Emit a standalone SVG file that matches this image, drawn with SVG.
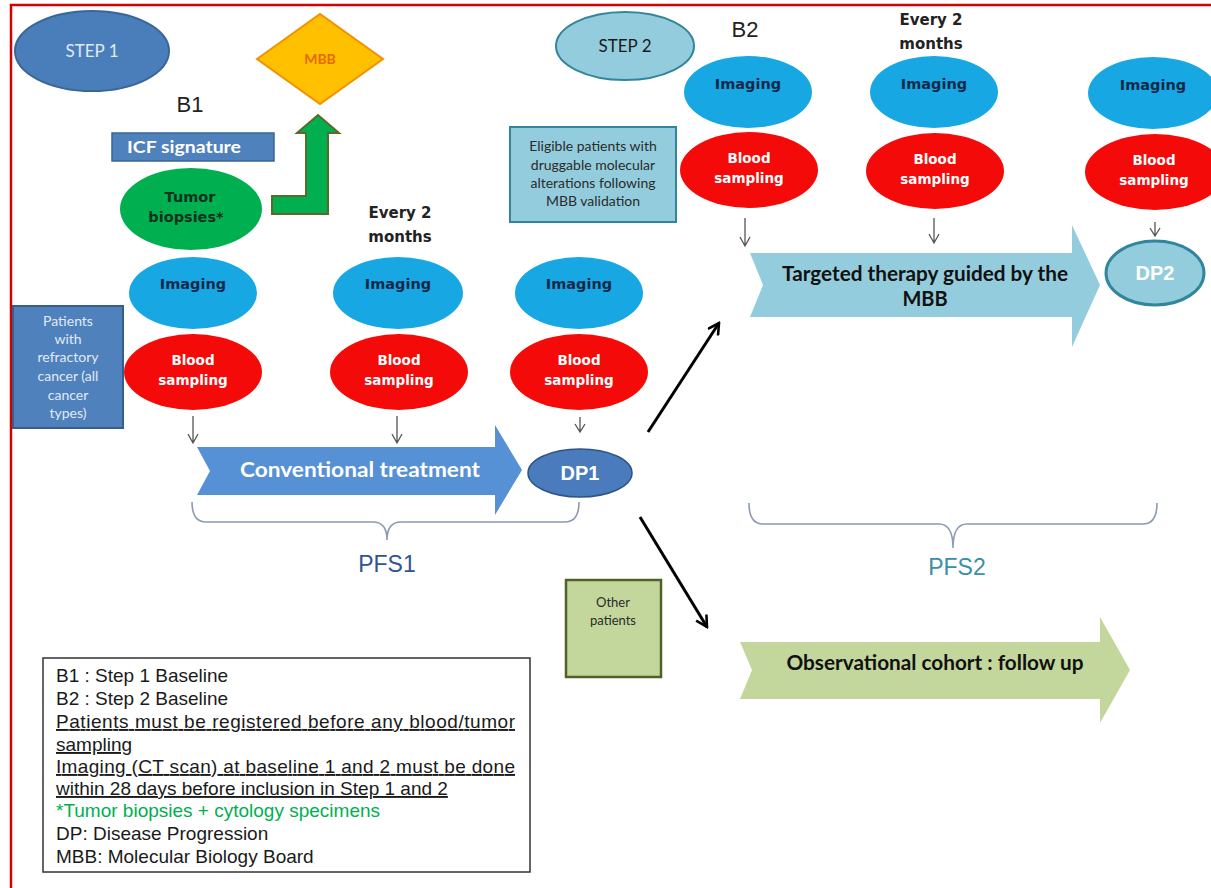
<svg xmlns="http://www.w3.org/2000/svg" width="1211" height="888" viewBox="0 0 1211 888">
<defs>
<style>
.cal{font-family:Lato,"Open Sans","Liberation Sans",sans-serif}
.dv{font-family:"DejaVu Sans","Liberation Sans",sans-serif;font-weight:bold}
.ar{font-family:"Liberation Sans",Arial,sans-serif}
.img{fill:#17a8e3}
.bld{fill:#f50a0a}
.imgt{fill:#14284a;font-size:14.5px}
.bldt{fill:#ffffff;font-size:13.5px}
.small{stroke:#555;stroke-width:1.3;fill:none}
.big{stroke:#000;stroke-width:3;fill:none}
.brace{stroke:#8a9bb3;stroke-width:1.6;fill:none}
.leg{font-size:19px;fill:#1a1a1a}
</style>
<marker id="open" viewBox="0 0 14 14" refX="12" refY="7" markerWidth="14" markerHeight="14" markerUnits="userSpaceOnUse" orient="auto">
<path d="M1 1 L12 7 L1 13" fill="none" stroke="#000" stroke-width="2.6"/>
</marker>
</defs>
<rect width="1211" height="888" fill="#fff"/>
<path d="M11 888 V5 H1211" fill="none" stroke="#d40000" stroke-width="2.5"/>

<g id="step1">
<ellipse cx="92" cy="51" rx="77" ry="40" fill="#4a7ebb" stroke="#3a6598" stroke-width="2"/>
<text x="92" y="57" text-anchor="middle" class="cal" font-size="17" fill="#e1eaf5">STEP 1</text>
</g>
<g id="mbb">
<polygon points="257,59 320,14 383,59 320,104" fill="#ffc000" stroke="#f29200" stroke-width="2"/>
<text x="320" y="64" text-anchor="middle" class="cal" font-weight="bold" font-size="14" fill="#e46c0a">MBB</text>
</g>
<g id="b1"><text x="190" y="112" text-anchor="middle" class="ar" font-size="22" fill="#222">B1</text></g>
<g id="icf">
<rect x="112" y="133" width="162" height="28" fill="#4f81bd" stroke="#3a6596" stroke-width="1.5"/>
<text x="184" y="153" text-anchor="middle" class="cal" font-weight="bold" font-size="17" fill="#fff" textLength="114" lengthAdjust="spacingAndGlyphs">ICF signature</text>
</g>
<g id="tumor">
<ellipse cx="191" cy="209" rx="71" ry="41" fill="#00b050"/>
<text x="190" y="202" text-anchor="middle" class="dv" font-size="14.5" fill="#13321c">Tumor</text>
<text x="186" y="222" text-anchor="middle" class="dv" font-size="14.5" fill="#13321c">biopsies*</text>
</g>
<g id="green-arrow">
<polygon points="272,196 306,196 306,133 297,133 318,115 339,133 328,133 328,214 272,214" fill="#00b050" stroke="#5a6a28" stroke-width="2"/>
</g>
<g id="every1">
<text x="400" y="218" text-anchor="middle" class="dv" font-size="15" fill="#222">Every 2</text>
<text x="400" y="242" text-anchor="middle" class="dv" font-size="15" fill="#222">months</text>
</g>

<g id="imaging1"><ellipse class="img" cx="193" cy="293" rx="64" ry="36"/><text x="193" y="289" text-anchor="middle" class="dv imgt">Imaging</text></g>
<g id="blood1"><ellipse class="bld" cx="193" cy="372" rx="69" ry="38"/><text x="193" y="365" text-anchor="middle" class="dv bldt">Blood</text><text x="193" y="385" text-anchor="middle" class="dv bldt">sampling</text></g>
<g id="imaging2"><ellipse class="img" cx="398" cy="293" rx="65" ry="36"/><text x="398" y="289" text-anchor="middle" class="dv imgt">Imaging</text></g>
<g id="blood2"><ellipse class="bld" cx="399" cy="372" rx="69" ry="38"/><text x="399" y="365" text-anchor="middle" class="dv bldt">Blood</text><text x="399" y="385" text-anchor="middle" class="dv bldt">sampling</text></g>
<g id="imaging3"><ellipse class="img" cx="579" cy="293" rx="64" ry="36"/><text x="579" y="289" text-anchor="middle" class="dv imgt">Imaging</text></g>
<g id="blood3"><ellipse class="bld" cx="579" cy="372" rx="69" ry="38"/><text x="579" y="365" text-anchor="middle" class="dv bldt">Blood</text><text x="579" y="385" text-anchor="middle" class="dv bldt">sampling</text></g>

<g id="patients">
<rect x="13" y="306" width="110" height="122" fill="#4f81bd" stroke="#385d8a" stroke-width="2"/>
<g class="cal" font-size="14" fill="#e1eaf5" text-anchor="middle">
<text x="68" y="326">Patients</text>
<text x="68" y="344">with</text>
<text x="68" y="362">refractory</text>
<text x="68" y="381">cancer (all</text>
<text x="68" y="400">cancer</text>
<text x="68" y="418">types)</text>
</g>
</g>

<g id="conventional">
<polygon points="197,447 495,447 495,425 522,470 495,515 495,495 197,495 210,471" fill="#5690d5"/>
<text x="360" y="477" text-anchor="middle" class="cal" font-weight="bold" font-size="21" fill="#fff" textLength="240" lengthAdjust="spacingAndGlyphs">Conventional treatment</text>
</g>
<g id="dp1">
<ellipse cx="580" cy="473" rx="52" ry="24" fill="#4a7bbd" stroke="#2f5386" stroke-width="1.5"/>
<text x="580" y="480" text-anchor="middle" class="ar" font-weight="bold" font-size="20" fill="#fff">DP1</text>
</g>
<g id="pfs1">
<path class="brace" d="M192 502 Q192 522 206 522 L373 522 Q387 522 387 540 Q387 522 401 522 L565 522 Q579 522 579 502"/>
<text x="387" y="572" text-anchor="middle" class="ar" font-size="23" fill="#2f5496">PFS1</text>
</g>

<g id="step2">
<ellipse cx="625" cy="46" rx="69" ry="34" fill="#93cddd" stroke="#31859c" stroke-width="2"/>
<text x="625" y="52" text-anchor="middle" class="cal" font-size="17" fill="#1a1a1a">STEP 2</text>
</g>
<g id="b2"><text x="745" y="37" text-anchor="middle" class="ar" font-size="22" fill="#222">B2</text></g>
<g id="eligible">
<rect x="510" y="127" width="166" height="95" fill="#93cddd" stroke="#31859c" stroke-width="2"/>
<g class="cal" font-size="14" fill="#2b2b2b" text-anchor="middle">
<text x="593" y="151">Eligible patients with</text>
<text x="593" y="170">druggable molecular</text>
<text x="593" y="188">alterations following</text>
<text x="593" y="206">MBB validation</text>
</g>
</g>
<g id="every2">
<text x="931" y="25" text-anchor="middle" class="dv" font-size="15" fill="#222">Every 2</text>
<text x="931" y="49" text-anchor="middle" class="dv" font-size="15" fill="#222">months</text>
</g>
<g id="imaging4"><ellipse class="img" cx="748" cy="92" rx="64" ry="36"/><text x="748" y="89" text-anchor="middle" class="dv imgt">Imaging</text></g>
<g id="blood4"><ellipse class="bld" cx="749" cy="170" rx="69" ry="38"/><text x="749" y="163" text-anchor="middle" class="dv bldt">Blood</text><text x="749" y="183" text-anchor="middle" class="dv bldt">sampling</text></g>
<g id="imaging5"><ellipse class="img" cx="934" cy="92" rx="64" ry="36"/><text x="934" y="89" text-anchor="middle" class="dv imgt">Imaging</text></g>
<g id="blood5"><ellipse class="bld" cx="935" cy="171" rx="69" ry="38"/><text x="935" y="164" text-anchor="middle" class="dv bldt">Blood</text><text x="935" y="184" text-anchor="middle" class="dv bldt">sampling</text></g>
<g id="imaging6"><ellipse class="img" cx="1153" cy="93" rx="65" ry="36"/><text x="1153" y="90" text-anchor="middle" class="dv imgt">Imaging</text></g>
<g id="blood6"><ellipse class="bld" cx="1155" cy="172" rx="70" ry="38"/><text x="1154" y="165" text-anchor="middle" class="dv bldt">Blood</text><text x="1154" y="185" text-anchor="middle" class="dv bldt">sampling</text></g>

<g id="targeted">
<polygon points="750,253 1072,253 1072,225 1100,285 1072,347 1072,317 750,317 763,285" fill="#93cddd"/>
<text x="925" y="281" text-anchor="middle" class="cal" font-weight="bold" font-size="20" fill="#111" textLength="286" lengthAdjust="spacingAndGlyphs">Targeted therapy guided by the</text>
<text x="925" y="306" text-anchor="middle" class="cal" font-weight="bold" font-size="20" fill="#111">MBB</text>
</g>
<g id="dp2">
<ellipse cx="1155" cy="273" rx="49" ry="32" fill="#93cddd" stroke="#31859c" stroke-width="3"/>
<text x="1155" y="280" text-anchor="middle" class="ar" font-weight="bold" font-size="20" fill="#fff">DP2</text>
</g>
<g id="pfs2">
<path class="brace" d="M749 503 Q749 524 763 524 L939 524 Q953 524 953 548 Q953 524 967 524 L1143 524 Q1157 524 1157 503"/>
<text x="957" y="575" text-anchor="middle" class="ar" font-size="23" fill="#3a8fa6">PFS2</text>
</g>

<g id="other">
<rect x="566" y="580" width="95" height="97" fill="#c3d69b" stroke="#4f6228" stroke-width="2.5"/>
<text x="613" y="607" text-anchor="middle" class="cal" font-size="13" fill="#2b2b2b">Other</text>
<text x="613" y="625" text-anchor="middle" class="cal" font-size="13" fill="#2b2b2b">patients</text>
</g>
<g id="observational">
<polygon points="740,642 1100,642 1100,617 1130,670 1100,723 1100,699 740,699 752,670" fill="#c3d69b"/>
<text x="935" y="670" text-anchor="middle" class="cal" font-weight="bold" font-size="20" fill="#111" textLength="297" lengthAdjust="spacingAndGlyphs">Observational cohort : follow up</text>
</g>

<g id="legend">
<rect x="43" y="658" width="487" height="214" fill="#fff" stroke="#333" stroke-width="1.5"/>
<g class="ar leg">
<text x="56" y="682">B1 : Step 1 Baseline</text>
<text x="56" y="705">B2 : Step 2 Baseline</text>
<text x="56" y="728" text-decoration="underline" textLength="459" lengthAdjust="spacing">Patients must be registered before any blood/tumor</text>
<text x="56" y="751" text-decoration="underline">sampling</text>
<text x="56" y="773" text-decoration="underline" textLength="459" lengthAdjust="spacing">Imaging (CT scan) at baseline 1 and 2 must be done</text>
<text x="56" y="795" text-decoration="underline">within 28 days before inclusion in Step 1 and 2</text>
<text x="56" y="817" fill="#00b050">*Tumor biopsies + cytology specimens</text>
<text x="56" y="840">DP: Disease Progression</text>
<text x="56" y="863">MBB: Molecular Biology Board</text>
</g>
</g>

<g id="connectors">
<path class="small" d="M193 416 V443 M188 434 L193 443 L198 434"/>
<path class="small" d="M397 416 V443 M392 434 L397 443 L402 434"/>
<path class="small" d="M580 417 V432 M575 424 L580 432 L585 424"/>
<path class="small" d="M745 218 V246 M740 237 L745 246 L750 237"/>
<path class="small" d="M934 218 V243 M929 234 L934 243 L939 234"/>
<path class="small" d="M1155 222 V236 M1150 228 L1155 236 L1160 228"/>
<line class="big" x1="648" y1="432" x2="719" y2="323" marker-end="url(#open)"/>
<line class="big" x1="640" y1="517" x2="707" y2="627" marker-end="url(#open)"/>
</g>
</svg>
